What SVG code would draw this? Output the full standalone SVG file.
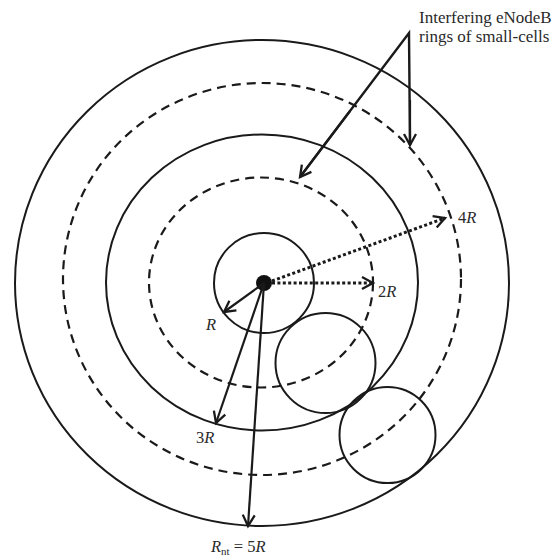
<svg xmlns="http://www.w3.org/2000/svg" width="560" height="556" viewBox="0 0 560 556">
<style>
.c{fill:none;stroke:#1a1a1a;stroke-width:2}
.d{fill:none;stroke:#1a1a1a;stroke-width:2.2;stroke-dasharray:9 6}
.a{fill:none;stroke:#1a1a1a;stroke-width:2.2;marker-end:url(#ah)}
.p{fill:none;stroke:#1a1a1a;stroke-width:3;stroke-dasharray:3 2.4;marker-end:url(#ah)}
text{font-family:"Liberation Serif","Times New Roman",serif;fill:#2a2a2a;font-size:16.5px}
.t{font-size:17px}
.i{font-style:italic}
</style>
<defs>
<marker id="ah" markerUnits="userSpaceOnUse" markerWidth="14" markerHeight="14" refX="12" refY="7" orient="auto" overflow="visible">
<path d="M1,1 L12,7 L1,13" fill="none" stroke="#1a1a1a" stroke-width="2.3"/>
</marker>
</defs>
<g id="outer-cell"><ellipse class="c" cx="262" cy="283" rx="247" ry="243"/></g>
<g id="ring-4R"><ellipse class="d" cx="262" cy="279" rx="199" ry="196"/></g>
<g id="ring-3R"><ellipse class="c" cx="262" cy="282.5" rx="156" ry="148"/></g>
<g id="ring-2R"><ellipse class="d" cx="261" cy="282.5" rx="112" ry="105"/></g>
<g id="cell-center"><circle class="c" cx="264" cy="283" r="50"/><circle cx="264" cy="283" r="8" fill="#111"/></g>
<g id="cell-2"><circle class="c" cx="325.5" cy="363" r="50"/></g>
<g id="cell-3"><circle class="c" cx="387.5" cy="435" r="48"/></g>
<g id="connectors">
<line class="a" x1="264" y1="283" x2="224" y2="312"/>
<line class="a" x1="264" y1="283" x2="216" y2="423"/>
<line class="a" x1="264" y1="283" x2="248" y2="526"/>
<line class="p" x1="272" y1="283" x2="373" y2="283"/>
<line class="p" x1="272" y1="281" x2="445" y2="218"/>
<polyline points="300,177 409,33 410,145" fill="none" stroke="#1a1a1a" stroke-width="2.4"/>
<line class="a" x1="350" y1="111" x2="300" y2="177" stroke-width="2.4"/>
<line class="a" x1="410" y1="100" x2="410" y2="145" stroke-width="2.4"/>
</g>
<g id="labels">
<text class="t" x="419" y="23">Interfering eNodeB</text>
<text class="t" x="419" y="42">rings of small-cells</text>
<text x="206" y="330" class="i">R</text>
<text x="196" y="443">3<tspan class="i">R</tspan></text>
<text x="378" y="297">2<tspan class="i">R</tspan></text>
<text x="458" y="223">4<tspan class="i">R</tspan></text>
<text x="211" y="552"><tspan class="i">R</tspan><tspan font-size="11" dy="3">nt</tspan><tspan dy="-3"> = 5</tspan><tspan class="i">R</tspan></text>
</g>
</svg>
